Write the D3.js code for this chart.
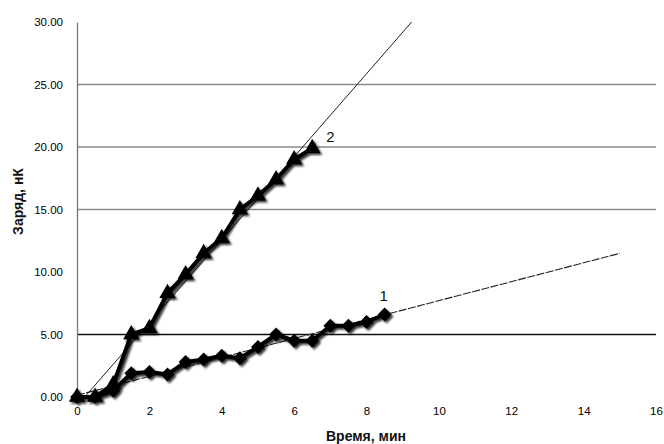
<!DOCTYPE html>
<html>
<head>
<meta charset="UTF-8"/>
<title>Заряд</title>
<script src="https://d3js.org/d3.v7.min.js"></script>
<style>
body { margin: 0; background: #fff; font-family: 'Liberation Sans', Arial, sans-serif; }
svg { display: block; }
.tick-label { font-size: 11.5px; fill: #000; }
.axis-title { font-size: 14px; font-weight: bold; fill: #111; }
.series-label { font-size: 15px; fill: #111; }
</style>
</head>
<body>
<svg width="664" height="444"></svg>
<script>
// data
const time1 = [0, 0.5, 1, 1.5, 2, 2.5, 3, 3.5, 4, 4.5, 5, 5.5, 6, 6.5, 7, 7.5, 8, 8.5];
const charge1 = [0, 0, 0.5, 1.9, 2.0, 1.8, 2.8, 3.0, 3.3, 3.1, 4.0, 5.0, 4.5, 4.5, 5.7, 5.7, 6.0, 6.6];
const time2 = [0, 0.5, 1, 1.5, 2, 2.5, 3, 3.5, 4, 4.5, 5, 5.5, 6, 6.5];
const charge2 = [0, 0, 1.0, 5.0, 5.5, 8.3, 9.8, 11.5, 12.7, 15.0, 16.1, 17.4, 19.0, 19.9];
const xTicks = [0, 2, 4, 6, 8, 10, 12, 14, 16];
const yTicks = [0, 5, 10, 15, 20, 25, 30];
const gridValues = [5, 15, 20, 25];
const trendEnd1 = 15;
const trendEnd2 = 10;

const svg = d3.select('svg');

const x = d3.scaleLinear().domain([0, 16]).range([77, 656]);
const y = d3.scaleLinear().domain([0, 30]).range([397, 22]);

// least squares fit, like the Excel trendline
function fit(xs, ys) {
  const mx = d3.mean(xs), my = d3.mean(ys);
  let sxy = 0, sxx = 0;
  xs.forEach((v, i) => { sxy += (v - mx) * (ys[i] - my); sxx += (v - mx) * (v - mx); });
  const k = sxy / sxx;
  return { k: k, b: my - k * mx };
}

const defs = svg.append('defs');
defs.append('clipPath').attr('id', 'plot')
  .append('rect').attr('x', 77).attr('y', 22).attr('width', 579).attr('height', 375);

const f = defs.append('filter').attr('id', 'soft')
  .attr('x', '-20%').attr('y', '-20%').attr('width', '140%').attr('height', '140%');
f.append('feGaussianBlur').attr('in', 'SourceAlpha').attr('stdDeviation', 1.3).attr('result', 'b');
f.append('feOffset').attr('in', 'b').attr('dx', 1.6).attr('dy', 1.6).attr('result', 'o');
f.append('feComponentTransfer').attr('in', 'o').attr('result', 's')
  .append('feFuncA').attr('type', 'linear').attr('slope', 0.8);
const m = f.append('feMerge');
m.append('feMergeNode').attr('in', 's');
m.append('feMergeNode').attr('in', 'SourceGraphic');

// gridlines
svg.append('g').selectAll('line')
  .data(gridValues)
  .join('line')
  .attr('x1', x(0)).attr('x2', x(16))
  .attr('y1', d => y(d)).attr('y2', d => y(d))
  .attr('stroke', d => d === 5 ? '#111' : '#8a8a8a')
  .attr('stroke-width', 1.3);

// y axis
const yAxis = svg.append('g')
  .attr('transform', `translate(${x(0)},0)`)
  .call(d3.axisLeft(y).tickValues(yTicks).tickSize(0).tickPadding(14).tickFormat(d3.format('.2f')));
yAxis.select('.domain').attr('stroke', '#777').attr('stroke-width', 1.3);
yAxis.selectAll('text').attr('class', 'tick-label').attr('font-family', null).attr('font-size', null);

// x axis labels only
const xAxis = svg.append('g')
  .attr('transform', `translate(0,${y(0)})`)
  .call(d3.axisBottom(x).tickValues(xTicks).tickSize(0).tickPadding(10));
xAxis.select('.domain').remove();
xAxis.selectAll('text').attr('class', 'tick-label').attr('font-family', null).attr('font-size', null);

// trendlines
const plot = svg.append('g').attr('clip-path', 'url(#plot)');
const t1 = fit(time1, charge1);
const t2 = fit(time2, charge2);
plot.append('line')
  .attr('x1', x(0)).attr('y1', y(t1.b))
  .attr('x2', x(trendEnd1)).attr('y2', y(t1.b + t1.k * trendEnd1))
  .attr('stroke', '#222').attr('stroke-width', 1.1).attr('stroke-dasharray', '8,1.5');
plot.append('line')
  .attr('x1', x(0)).attr('y1', y(t2.b))
  .attr('x2', x(trendEnd2)).attr('y2', y(t2.b + t2.k * trendEnd2))
  .attr('stroke', '#222').attr('stroke-width', 1);

const line = d3.line().x(d => x(d[0])).y(d => y(d[1]));
const pts1 = time1.map((t, i) => [t, charge1[i]]);
const pts2 = time2.map((t, i) => [t, charge2[i]]);

const s = svg.append('g').attr('filter', 'url(#soft)');
s.append('path').datum(pts1).attr('d', line)
  .attr('fill', 'none').attr('stroke', '#000').attr('stroke-width', 4).attr('stroke-linejoin', 'round');
s.append('path').datum(pts2).attr('d', line)
  .attr('fill', 'none').attr('stroke', '#000').attr('stroke-width', 4).attr('stroke-linejoin', 'round');

s.selectAll('.dia').data(pts1).join('path')
  .attr('class', 'dia')
  .attr('transform', d => `translate(${x(d[0])},${y(d[1])}) rotate(45)`)
  .attr('d', d3.symbol(d3.symbolSquare, 95))
  .attr('fill', '#000');
s.selectAll('.tri').data(pts2).join('path')
  .attr('class', 'tri')
  .attr('transform', d => `translate(${x(d[0])},${y(d[1])})`)
  .attr('d', d3.symbol(d3.symbolTriangle, 115))
  .attr('fill', '#000');

// series numbers
svg.append('text').attr('class', 'series-label')
  .attr('x', x(time1[time1.length - 1]) - 5).attr('y', y(charge1[charge1.length - 1]) - 14)
  .text('1');
svg.append('text').attr('class', 'series-label')
  .attr('x', x(time2[time2.length - 1]) + 14).attr('y', y(charge2[charge2.length - 1]) - 6)
  .text('2');

// axis titles
svg.append('text').attr('class', 'axis-title')
  .attr('text-anchor', 'middle')
  .attr('transform', `translate(23,${(y(0) + y(30)) / 2 - 8}) rotate(-90)`)
  .text('Заряд, нК');
svg.append('text').attr('class', 'axis-title')
  .attr('text-anchor', 'middle')
  .attr('x', 366).attr('y', 441)
  .text('Время, мин');
</script>
</body>
</html>
